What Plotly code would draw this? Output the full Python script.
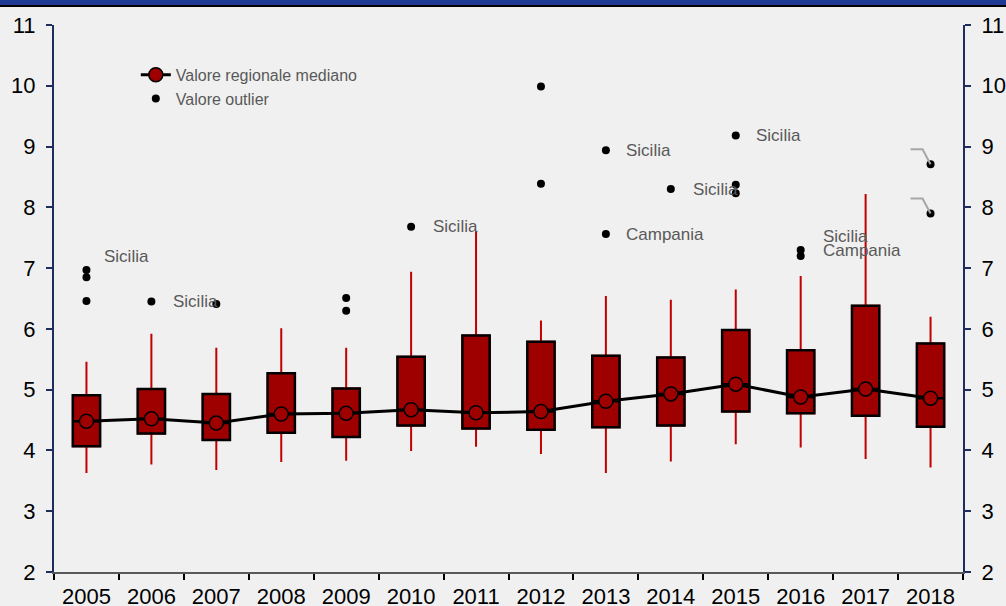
import plotly.graph_objects as go

years = ['2005', '2006', '2007', '2008', '2009', '2010', '2011',
         '2012', '2013', '2014', '2015', '2016', '2017', '2018']
lower = [3.63, 3.77, 3.68, 3.81, 3.83, 3.99, 4.06, 3.94, 3.63, 3.82, 4.10, 4.05, 3.86, 3.72]
q1 = [4.07, 4.28, 4.17, 4.29, 4.22, 4.41, 4.36, 4.34, 4.38, 4.41, 4.64, 4.61, 4.57, 4.39]
median = [4.48, 4.52, 4.45, 4.60, 4.61, 4.67, 4.62, 4.64, 4.81, 4.93, 5.09, 4.88, 5.01, 4.86]
q3 = [4.91, 5.01, 4.93, 5.27, 5.02, 5.54, 5.89, 5.79, 5.56, 5.53, 5.98, 5.65, 6.38, 5.76]
upper = [5.46, 5.92, 5.69, 6.01, 5.69, 6.94, 7.61, 6.14, 6.54, 6.48, 6.65, 6.87, 8.22, 6.20]

outlier_years = ['2005', '2005', '2005', '2006', '2007', '2009', '2009', '2010',
                 '2012', '2012', '2013', '2013', '2014', '2015', '2015', '2015',
                 '2016', '2016', '2018', '2018']
outlier_values = [6.97, 6.85, 6.46, 6.45, 6.41, 6.51, 6.30, 7.68,
                  9.99, 8.39, 8.94, 7.56, 8.30, 9.18, 8.37, 8.23,
                  7.30, 7.20, 8.71, 7.90]

label_years = ['2005', '2006', '2010', '2013', '2013', '2014', '2015', '2016', '2016']
label_values = [6.97, 6.45, 7.68, 8.94, 7.56, 8.30, 9.18, 7.30, 7.20]
label_texts = ['Sicilia', 'Sicilia', 'Sicilia', 'Sicilia', 'Campania',
               'Sicilia', 'Sicilia', 'Sicilia', 'Campania']

# outlier 2018 con solo linea guida (etichetta vuota)
leader_years = ['2018', '2018']
leader_values = [8.71, 7.90]

BOX_RED = '#9e0000'
WHISKER_RED = '#c00000'
NAVY = '#1f2d5c'
GREY_TXT = '#595959'
FONT = 'Liberation Sans'

fig = go.Figure()

# baffi (whiskers)
fig.add_trace(go.Box(
    x=years, q1=q1, median=median, q3=q3,
    lowerfence=lower, upperfence=upper,
    line=dict(color=WHISKER_RED, width=2), fillcolor=BOX_RED,
    whiskerwidth=0, width=0.42, showlegend=False, hoverinfo='skip'))

# scatole con bordo nero
fig.add_trace(go.Box(
    x=years, q1=q1, median=median, q3=q3,
    lowerfence=q1, upperfence=q3,
    line=dict(color='black', width=2.5), fillcolor=BOX_RED,
    whiskerwidth=0, width=0.42, showlegend=False))

# outlier sull'asse destro (stessa scala) cosi' l'asse viene disegnato
fig.add_trace(go.Scatter(
    x=outlier_years, y=outlier_values, mode='markers', yaxis='y2',
    name='Valore outlier', legendrank=2,
    marker=dict(color='black', size=8)))

fig.add_trace(go.Scatter(
    x=years, y=median, mode='lines+markers',
    name='Valore regionale mediano', legendrank=1,
    line=dict(color='black', width=3),
    marker=dict(color=BOX_RED, size=14, line=dict(color='black', width=1.5))))

shifts = [(16, 13), (20, 0), (20, 0), (18, 0), (18, 0), (20, 0), (18, 0), (20, 13), (20, 5)]
for yr, v, t, (dx, dy) in zip(label_years, label_values, label_texts, shifts):
    fig.add_annotation(x=years.index(yr), y=v, text=t, showarrow=False, xanchor='left',
                       xshift=dx, yshift=dy,
                       font=dict(family=FONT, size=17, color=GREY_TXT))

for yr, v in zip(leader_years, leader_values):
    fig.add_shape(type='path', xref='x', yref='y',
                  xsizemode='pixel', ysizemode='pixel',
                  xanchor=years.index(yr), yanchor=v,
                  path='M-20,15 L-8,15 L0,0',
                  line=dict(color='#a6a6a6', width=2))

# banda blu in alto
fig.add_shape(type='rect', xref='paper', yref='paper',
              x0=-0.1, x1=1.1, y0=1.0366, y1=1.05,
              fillcolor='#1f3a93', line_width=0, layer='above')
fig.add_shape(type='rect', xref='paper', yref='paper',
              x0=-0.1, x1=1.1, y0=1.0329, y1=1.0366,
              fillcolor='black', line_width=0, layer='above')

yaxis_common = dict(range=[2, 11], dtick=1, showgrid=False, zeroline=False,
                    showline=True, linecolor=NAVY, linewidth=2,
                    ticks='outside', ticklen=6, tickwidth=2, tickcolor=NAVY,
                    tickfont=dict(family=FONT, size=22, color='black'),
                    ticklabelstandoff=6, automargin=False)

fig.update_layout(
    width=1006, height=606,
    margin=dict(l=54, r=43, t=25, b=34),
    paper_bgcolor='#f0f0f0', plot_bgcolor='#f0f0f0',
    boxmode='overlay',
    xaxis=dict(type='category', range=[-0.5, len(years) - 0.5],
               categoryorder='array', categoryarray=years,
               tickson='boundaries', showgrid=False, automargin=False,
               showline=True, linecolor='#595959', linewidth=2,
               ticks='outside', ticklen=6, tickwidth=2, tickcolor='black',
               tickfont=dict(family=FONT, size=22, color='black'),
               ticklabelstandoff=4),
    yaxis=yaxis_common,
    yaxis2=dict(overlaying='y', side='right', anchor='x', **yaxis_common),
    legend=dict(x=0.09, y=0.94, xanchor='left', yanchor='top',
                bgcolor='rgba(0,0,0,0)', tracegroupgap=0,
                font=dict(family=FONT, size=16, color=GREY_TXT)),
    font=dict(family=FONT),
)

fig.write_html("out.html", config={'displayModeBar': False},
               post_script="document.body.style.margin='0';")
